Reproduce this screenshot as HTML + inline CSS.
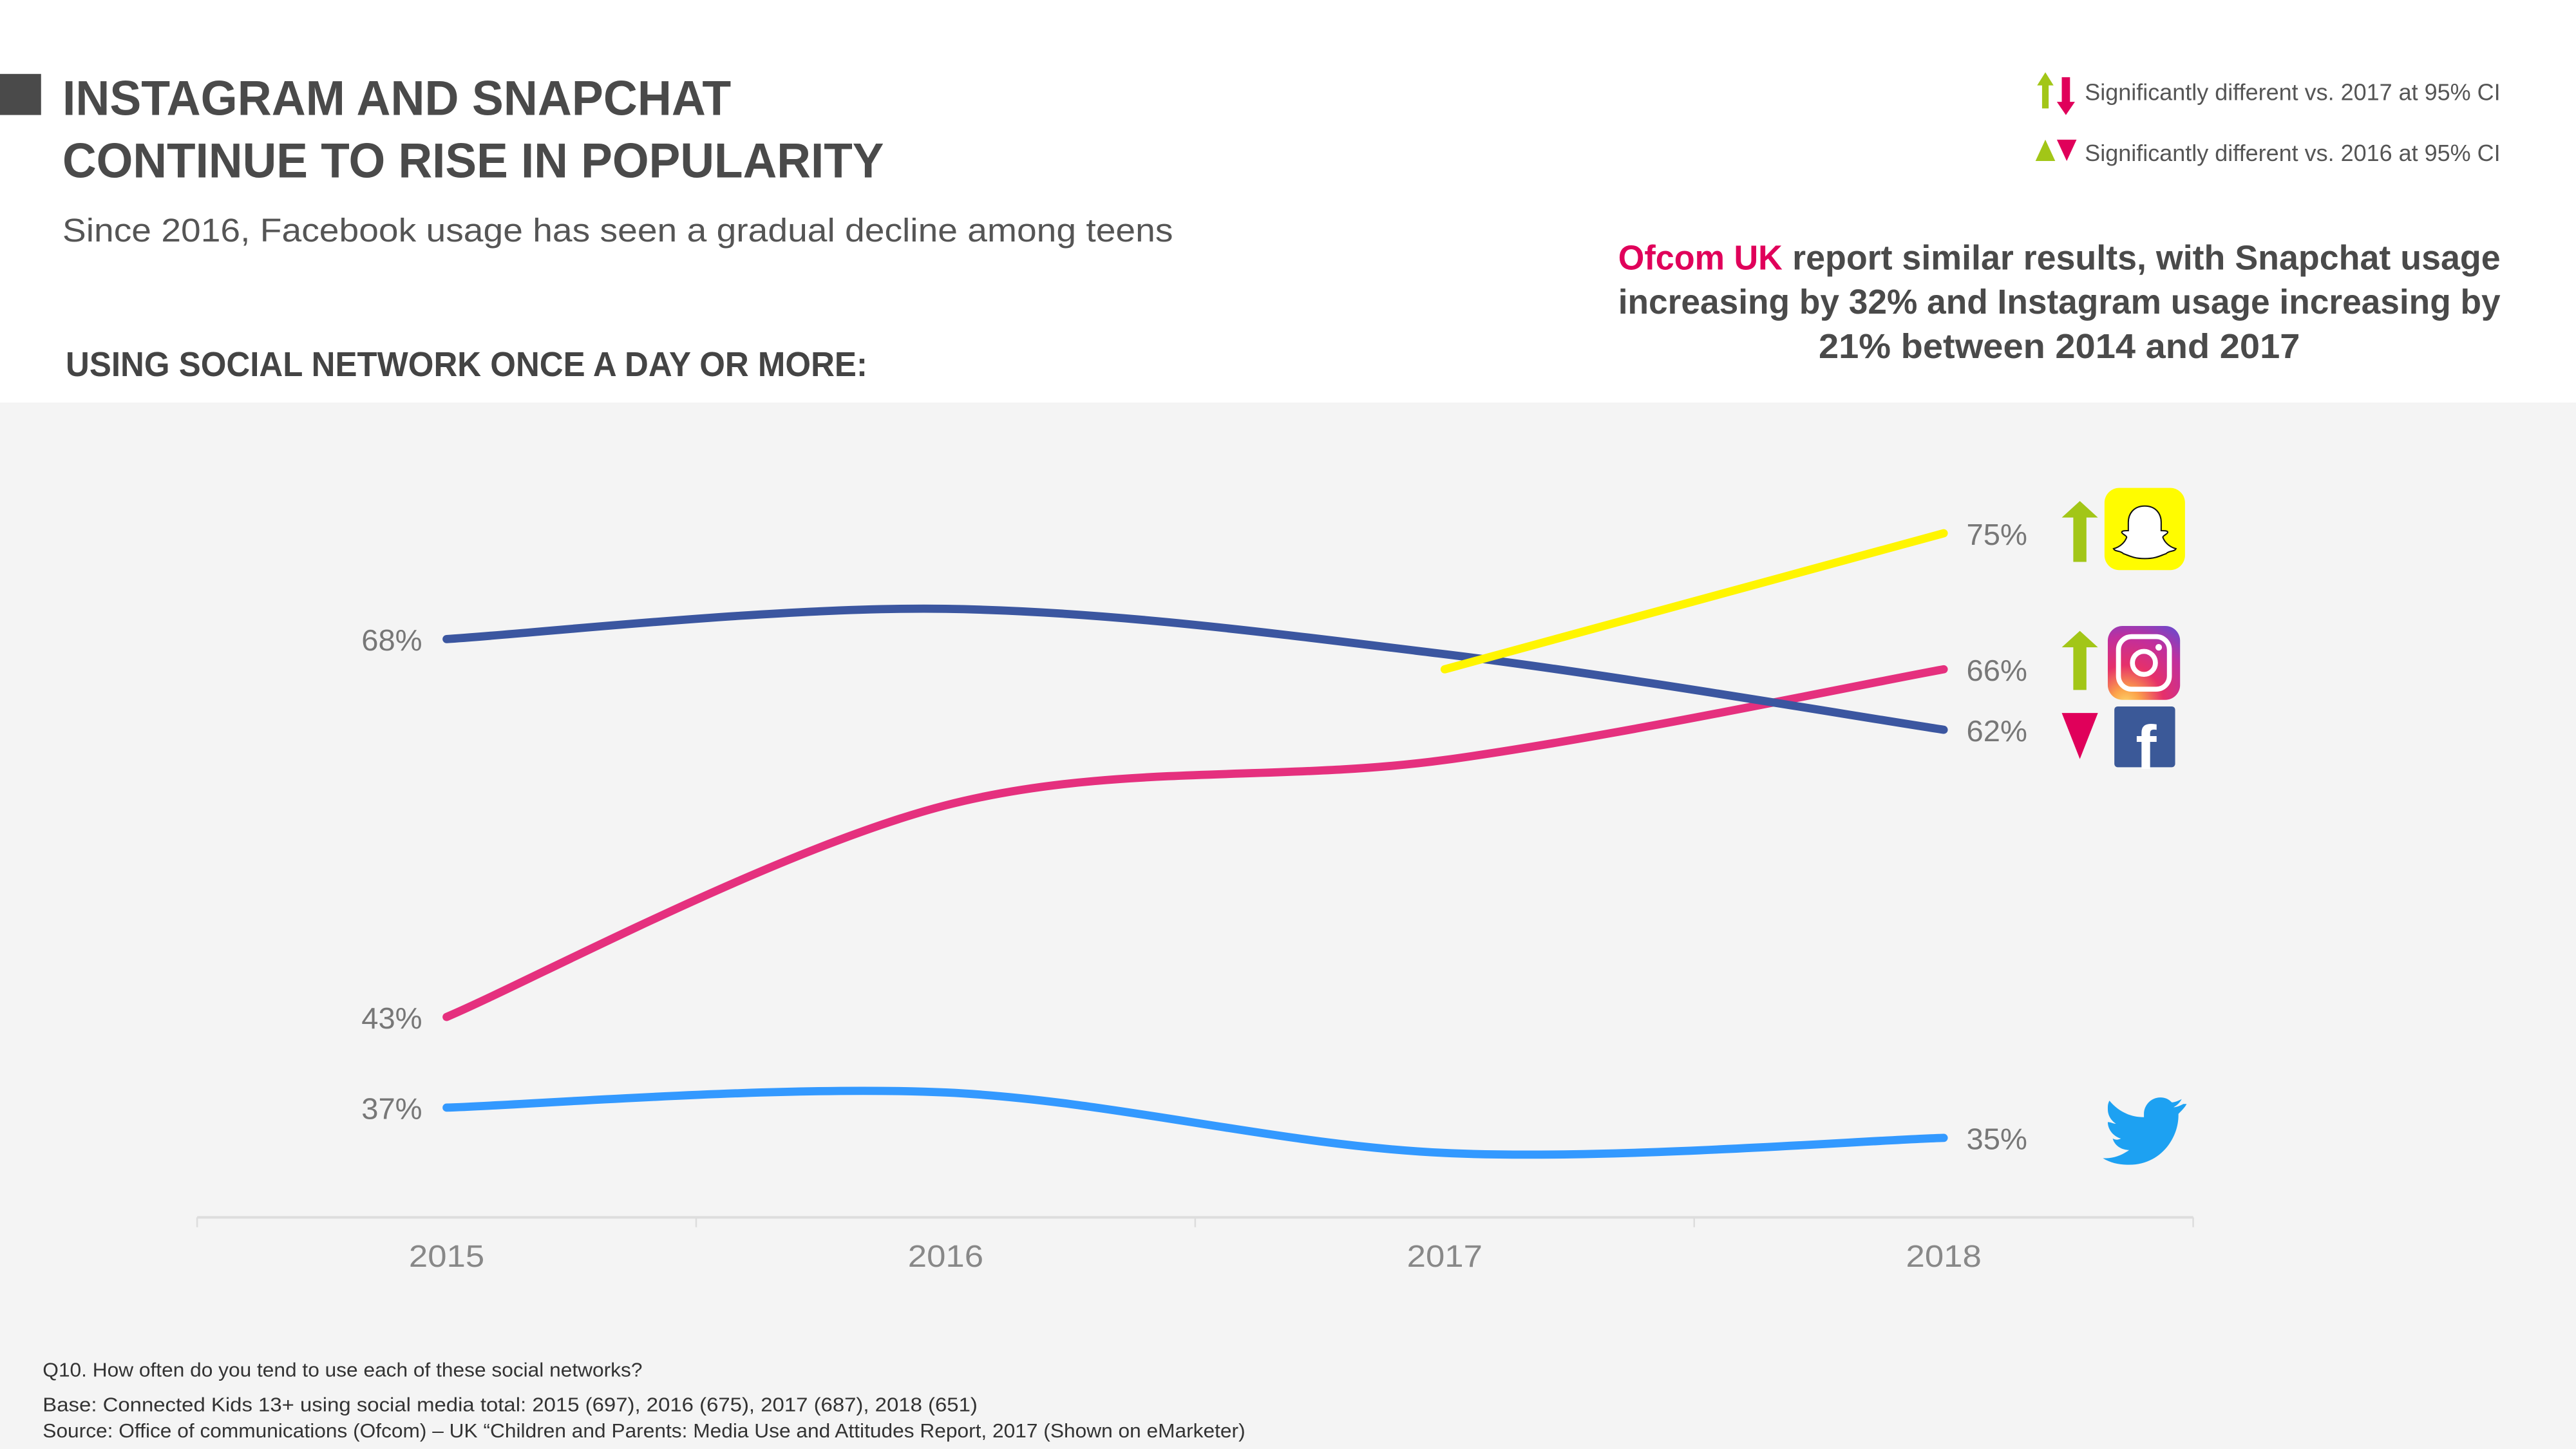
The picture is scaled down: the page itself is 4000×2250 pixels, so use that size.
<!DOCTYPE html>
<html><head><meta charset="utf-8"><style>
html,body{margin:0;padding:0;background:#fff;}
svg{display:block;}
text{font-family:"Liberation Sans",sans-serif;}
</style></head><body>
<svg id="chart" width="4000" height="2250" viewBox="0 0 1568 882" xmlns="http://www.w3.org/2000/svg">
<defs>
<radialGradient id="igGrad" cx="0.25" cy="1.05" r="1.3">
<stop offset="0" stop-color="#fdd56b"/><stop offset="0.15" stop-color="#fca34a"/><stop offset="0.4" stop-color="#e6306a"/><stop offset="0.7" stop-color="#c02f9e"/><stop offset="1" stop-color="#5b4fd6"/>
</radialGradient>
</defs>
<rect x="0" y="0" width="1568" height="245" fill="#ffffff"/>
<rect x="0" y="245" width="1568" height="637" fill="#f4f4f4"/>
<rect x="0" y="45" width="25" height="25" fill="#4a4a4a"/>
<text x="38" y="70" font-size="30" font-weight="bold" fill="#4a4a4a" textLength="407" lengthAdjust="spacingAndGlyphs">INSTAGRAM AND SNAPCHAT</text>
<text x="38" y="108" font-size="30" font-weight="bold" fill="#4a4a4a" textLength="500" lengthAdjust="spacingAndGlyphs">CONTINUE TO RISE IN POPULARITY</text>
<text x="38" y="147" font-size="20" fill="#555" textLength="676" lengthAdjust="spacingAndGlyphs">Since 2016, Facebook usage has seen a gradual decline among teens</text>
<text x="40" y="229" font-size="21" font-weight="bold" fill="#444" textLength="488" lengthAdjust="spacingAndGlyphs">USING SOCIAL NETWORK ONCE A DAY OR MORE:</text>

<g>
<polygon points="1240,52 1245,44 1250,52 1247,52 1247,66 1243,66 1243,52" fill="#a2c617"/>
<polygon points="1255,47 1260,47 1260,62 1263,62 1257.5,70 1252,62 1255,62" fill="#e0005a"/>
<text x="1269" y="61" font-size="14" fill="#555" textLength="253" lengthAdjust="spacingAndGlyphs">Significantly different vs. 2017 at 95% CI</text>
<polygon points="1239,98 1245,85 1251,98" fill="#a2c617"/>
<polygon points="1252,85 1264,85 1258,98" fill="#e0005a"/>
<text x="1269" y="98" font-size="14" fill="#555" textLength="253" lengthAdjust="spacingAndGlyphs">Significantly different vs. 2016 at 95% CI</text>
</g>

<g>
<text x="985" y="164" font-size="21" font-weight="bold" fill="#e0005a" textLength="100" lengthAdjust="spacingAndGlyphs">Ofcom UK</text>
<text x="1091" y="164" font-size="21" font-weight="bold" fill="#4a4a4a" textLength="431" lengthAdjust="spacingAndGlyphs">report similar results, with Snapchat usage</text>
<text x="985" y="191" font-size="21" font-weight="bold" fill="#4a4a4a" textLength="537" lengthAdjust="spacingAndGlyphs">increasing by 32% and Instagram usage increasing by</text>
<text x="1107" y="218" font-size="21" font-weight="bold" fill="#4a4a4a" textLength="293" lengthAdjust="spacingAndGlyphs">21% between 2014 and 2017</text>
</g>

<g id="plot"></g>

<g>
<polygon points="1255,315 1266,305 1277,315 1270,315 1270,342 1262,342 1262,315" fill="#a2c617"/>
<rect x="1281" y="297" width="49" height="50" rx="9" fill="#fffc00"/>
<path d="M1305.5,308 c-7,0 -10,5 -10,10 l0,5 c-2,0 -4,0 -4,1 c0,1 3,2 3,3 c-1,3 -4,6 -8,7 c1,2 4,1 6,3 c3,1 6,3 13,3 c7,0 10,-2 13,-3 c2,-2 5,-1 6,-3 c-4,-1 -7,-4 -8,-7 c0,-1 3,-2 3,-3 c0,-1 -2,-1 -4,-1 l0,-5 c0,-5 -3,-10 -10,-10z" fill="#fff" stroke="#111" stroke-width="0.8"/>
<polygon points="1255,394 1266,384 1277,394 1270,394 1270,420 1262,420 1262,394" fill="#a2c617"/>
<rect x="1283" y="381" width="44" height="45" rx="9" fill="url(#igGrad)"/>
<rect x="1289.5" y="387.5" width="31" height="32" rx="8" fill="none" stroke="#fff" stroke-width="3"/>
<circle cx="1305" cy="403.5" r="7" fill="none" stroke="#fff" stroke-width="3"/>
<circle cx="1314" cy="394" r="2" fill="#fff"/>
<polygon points="1255,434 1277,434 1266,462" fill="#e0005a"/>
<rect x="1287" y="430" width="37" height="37" rx="2" fill="#3b5998"/>
<text x="1300" y="468" font-size="38" font-weight="bold" fill="#fff">f</text>
<path d="M1329,672 c-2,1 -4,2 -6,2 c2,-1 4,-3 5,-5 c-2,1 -4,2 -6,2 c-2,-2 -4,-3 -7,-3 c-6,0 -10,5 -10,10 l0,2 c-9,0 -16,-4 -21,-10 c-1,2 -1,3 -1,5 c0,4 2,7 5,9 c-2,0 -3,-1 -5,-1 c0,5 4,9 8,10 c-2,1 -3,1 -5,0 c1,4 5,7 10,7 c-4,3 -9,5 -14,5 l-2,0 c5,3 10,4 16,4 c19,0 30,-16 30,-30 l0,-1 c2,-2 4,-4 5,-6z" fill="#1da1f2"/>
</g>

<g>
<text x="26" y="838" font-size="12" fill="#333" textLength="365" lengthAdjust="spacingAndGlyphs">Q10. How often do you tend to use each of these social networks?</text>
<text x="26" y="859" font-size="12" fill="#333" textLength="569" lengthAdjust="spacingAndGlyphs">Base: Connected Kids 13+ using social media total: 2015 (697), 2016 (675), 2017 (687), 2018 (651)</text>
<text x="26" y="875" font-size="12" fill="#333" textLength="732" lengthAdjust="spacingAndGlyphs">Source: Office of communications (Ofcom) – UK “Children and Parents: Media Use and Attitudes Report, 2017 (Shown on eMarketer)</text>
</g>
</svg>
<script>
const years = ["2015", "2016", "2017", "2018"];
const facebook = [68, 70, 67, 62];
const instagram = [43, 57, 60, 66];
const twitter = [37, 38, 34, 35];
const snapchat = [null, null, 66, 75];
const leftLabels = ["68%", "43%", "37%"];
const rightLabels = ["75%", "66%", "62%", "35%"];

const NS = "http://www.w3.org/2000/svg";
const plot = document.getElementById("plot");
const x0 = 120, x1 = 1335;
const band = (x1 - x0) / years.length;
function xScale(i) { return x0 + band * (i + 0.5); }
function yScale(v) { return 389 + (68 - v) * 9.2; }
function mk(tag, attrs) { const e = document.createElementNS(NS, tag); for (const k in attrs) e.setAttribute(k, attrs[k]); plot.appendChild(e); return e; }

const axis = mk("line", {x1: x0, x2: x1, y1: 741, y2: 741, stroke: "#dddddd", "stroke-width": 1.5});


for (let i = 0; i <= years.length; i++) {
  const tx = x0 + band * i;
  const t = mk("line", {x1: tx, x2: tx, y1: 741, y2: 747, stroke: "#dddddd", "stroke-width": 1});
  
  
}
years.forEach((y, i) => {
  const t = mk("text", {x: xScale(i), y: 771, "font-size": 19, fill: "#888", "text-anchor": "middle", textLength: 46, lengthAdjust: "spacingAndGlyphs"});
  t.textContent = y;
  
  
});

function smoothPath(vals) {
  const pts = [];
  vals.forEach((v, i) => { if (v !== null) pts.push([xScale(i), yScale(v)]); });
  if (pts.length === 2) return "M" + pts[0] + " L" + pts[1];
  let d = "M" + pts[0][0] + "," + pts[0][1];
  for (let i = 0; i < pts.length - 1; i++) {
    const p0 = pts[Math.max(0, i - 1)], p1 = pts[i], p2 = pts[i + 1], p3 = pts[Math.min(pts.length - 1, i + 2)];
    const c1x = p1[0] + (p2[0] - p0[0]) / 6, c1y = p1[1] + (p2[1] - p0[1]) / 6;
    const c2x = p2[0] - (p3[0] - p1[0]) / 6, c2y = p2[1] - (p3[1] - p1[1]) / 6;
    d += " C" + c1x + "," + c1y + " " + c2x + "," + c2y + " " + p2[0] + "," + p2[1];
  }
  return d;
}
const series = [
  ["twitter-line", twitter, "#3399ff"],
  ["instagram-line", instagram, "#e5307e"],
  ["facebook-line", facebook, "#3b56a0"],
  ["snapchat-line", snapchat, "#fff500"]
];
series.forEach(s => {
  const p = mk("path", {d: smoothPath(s[1]), fill: "none", stroke: s[2], "stroke-width": 5, "stroke-linecap": "round"});
  
  
});

const leftVals = [facebook[0], instagram[0], twitter[0]];
leftVals.forEach((v, i) => {
  const t = mk("text", {x: 257, y: yScale(v) + 7, "font-size": 18, fill: "#777", "text-anchor": "end", textLength: 37, lengthAdjust: "spacingAndGlyphs"});
  t.textContent = leftLabels[i];
  
  
});
const rightVals = [snapchat[3], instagram[3], facebook[3], twitter[3]];
rightVals.forEach((v, i) => {
  const t = mk("text", {x: 1197, y: yScale(v) + 7, "font-size": 18, fill: "#777", textLength: 37, lengthAdjust: "spacingAndGlyphs"});
  t.textContent = rightLabels[i];
  
  
});
</script>
</body></html>
